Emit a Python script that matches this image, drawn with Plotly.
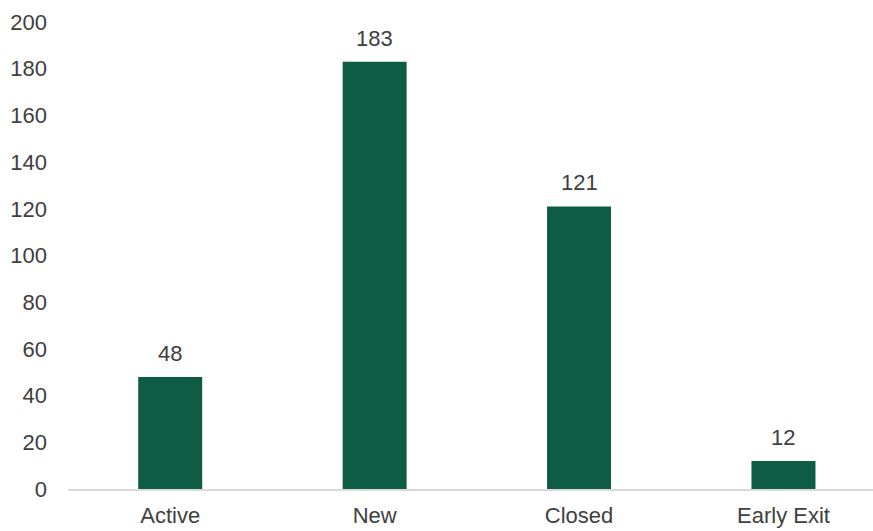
import plotly.graph_objects as go

categories = ["Active", "New", "Closed", "Early Exit"]
counts = [48, 183, 121, 12]
y_ticks = list(range(0, 201, 20))

BAR_COLOR = "#0F5C44"
TEXT_COLOR = "#404040"
FONT = "Liberation Sans, Arial, sans-serif"
FONT_SIZE = 22

fig = go.Figure(
    go.Bar(
        x=categories,
        y=counts,
        marker=dict(color=BAR_COLOR, line=dict(width=0)),
        hoverinfo="x+y",
    )
)

# value labels above each bar
for cat, val in zip(categories, counts):
    fig.add_annotation(
        x=cat, y=val, text=str(val), showarrow=False,
        yanchor="bottom", yshift=9,
        font=dict(family=FONT, size=FONT_SIZE, color=TEXT_COLOR),
    )

fig.update_layout(
    width=873, height=531,
    margin=dict(l=68, r=0, t=22, b=42),
    paper_bgcolor="white", plot_bgcolor="white",
    bargap=0.687,
    showlegend=False,
    font=dict(family=FONT, size=FONT_SIZE, color=TEXT_COLOR),
    xaxis=dict(
        range=[-0.5, 3.438],
        showline=True, linecolor="#D9D9D9", linewidth=2,
        showgrid=False, ticks="", ticklabelstandoff=6,
        tickfont=dict(size=FONT_SIZE, color=TEXT_COLOR),
    ),
    yaxis=dict(
        range=[0, 200], tickvals=y_ticks, showgrid=False,
        zeroline=False, showline=False, ticks="",
        ticklabelstandoff=20,
        tickfont=dict(size=FONT_SIZE, color=TEXT_COLOR),
    ),
)

fig.write_html("out.html")
